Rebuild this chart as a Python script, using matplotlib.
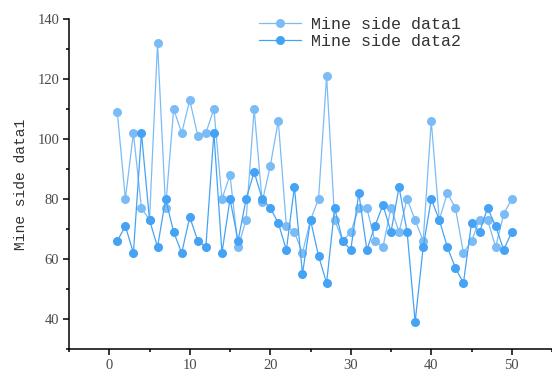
import matplotlib
matplotlib.use('Agg')
import matplotlib.pyplot as plt
from matplotlib.ticker import MultipleLocator

# Data
x = list(range(1, 51))
data1 = [109, 80, 102, 77, 73, 132, 77, 110, 102, 113,
         101, 102, 110, 80, 88, 64, 73, 110, 79, 91,
         106, 71, 69, 62, 73, 80, 121, 73, 66, 69,
         77, 77, 66, 64, 77, 69, 80, 73, 66, 106,
         73, 82, 77, 62, 66, 73, 73, 64, 75, 80]
data2 = [66, 71, 62, 102, 73, 64, 80, 69, 62, 74,
         66, 64, 102, 62, 80, 66, 80, 89, 80, 77,
         72, 63, 84, 55, 73, 61, 52, 77, 66, 63,
         82, 63, 71, 78, 69, 84, 69, 39, 64, 80,
         73, 64, 57, 52, 72, 69, 77, 71, 63, 69]
labels = ['Mine side data1', 'Mine side data2']

light = '#7bbcf7'
dark = '#45a3f5'

fig = plt.figure(figsize=(5.52, 3.74), dpi=100)
ax = fig.add_axes([0.125, 0.067, 0.875, 0.882])

ax.plot(x, data1, color=light, lw=0.9, marker='o', markersize=6.5,
        markeredgewidth=0, label=labels[0])
ax.plot(x, data2, color=dark, lw=0.9, marker='o', markersize=6.5,
        markeredgewidth=0, label=labels[1])

ax.set_xlim(-5, 55)
ax.set_ylim(30, 140)
ax.xaxis.set_major_locator(MultipleLocator(10))
ax.xaxis.set_minor_locator(MultipleLocator(5))
ax.yaxis.set_major_locator(MultipleLocator(20))
ax.yaxis.set_minor_locator(MultipleLocator(10))

for side in ['top', 'right']:
    ax.spines[side].set_visible(False)
for side in ['left', 'bottom']:
    ax.spines[side].set_linewidth(1.1)

ax.tick_params(which='major', direction='out', length=4, width=1.1,
               labelsize=10.5, labelcolor='#4a4a4a', pad=3)
ax.tick_params(which='minor', direction='out', length=2.2, width=1.1)
for lab in ax.get_xticklabels() + ax.get_yticklabels():
    lab.set_fontfamily('Liberation Serif')

ax.set_ylabel('Mine side data1', fontfamily='Liberation Mono',
              fontsize=10.5, color='#333333', labelpad=7)

leg = ax.legend(loc='upper left', bbox_to_anchor=(0.455, 0.976),
                bbox_transform=fig.transFigure, frameon=False,
                borderpad=0, handlelength=2.5, handletextpad=0.6,
                labelspacing=0.1,
                prop={'family': 'Liberation Mono', 'size': 12})
for t in leg.get_texts():
    t.set_color('#333333')

fig.savefig('out.png', dpi=100)
